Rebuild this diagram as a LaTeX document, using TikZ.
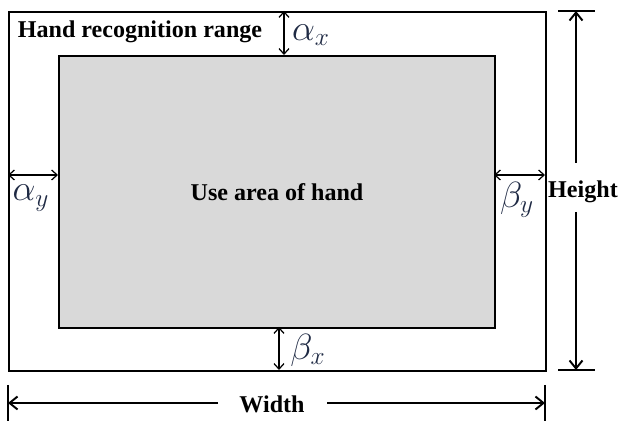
\documentclass[tikz,border=0pt]{standalone}
\usepackage{fontspec}
\setmainfont{Liberation Serif}
\usetikzlibrary{arrows.meta,positioning}
\definecolor{usegray}{HTML}{D9D9D9}
\definecolor{symblue}{HTML}{1F2A44}
\tikzset{
  area/.style={draw=black,line width=1.2pt,inner sep=0pt},
  lbl/.style={font=\bfseries\fontsize{13.7}{16}\selectfont,inner sep=1pt},
  sym/.style={font=\fontsize{20}{22}\selectfont,text=symblue,inner sep=0pt},
  gap/.style={{Straight Barb[length=1.1mm,width=2mm]}-{Straight Barb[length=1.1mm,width=2mm]},line width=0.7pt},
  dim/.style={-{Straight Barb[length=1.6mm,width=2.6mm]},line width=1.1pt},
  tick/.style={line width=1.1pt},
}

\begin{document}
\begin{tikzpicture}[x=0.02cm,y=-0.02cm]
  \useasboundingbox (0,0) rectangle (622,421);
  % the two areas
  \node[area,minimum width=10.74cm,minimum height=7.18cm,anchor=north west] (outer) at (8,11) {};
  \node[area,fill=usegray,minimum width=8.72cm,minimum height=5.44cm,anchor=north west,
        font=\bfseries\fontsize{13.7}{16}\selectfont] (inner) at (58,55) {Use area of hand};
  \node[lbl] (range) at (140,32) {Hand recognition range};

  % margins
  \coordinate (axt) at (284,11);  \coordinate (axb) at (284,55);
  \coordinate (bxt) at (279,327); \coordinate (bxb) at (279,370);
  \coordinate (ayl) at (8,175);   \coordinate (ayr) at (58,175);
  \coordinate (byl) at (494,175); \coordinate (byr) at (545,175);
  \draw[gap] (axt) -- (axb);
  \draw[gap] (bxt) -- (bxb);
  \draw[gap] (ayl) -- (ayr);
  \draw[gap] (byl) -- (byr);
  \node[sym] (alx) at (311,35)  {$\alpha_x$};
  \node[sym] (bex) at (308,350) {$\beta_x$};
  \node[sym] (aly) at (31,198)  {$\alpha_y$};
  \node[sym] (bey) at (517,200) {$\beta_y$};

  % height
  \node[lbl] (height) at (583,192) {Height};
  \coordinate (ht) at (576,11);  \coordinate (hb) at (576,370);
  \coordinate (hu) at (576,163); \coordinate (hd) at (576,212);
  \draw[tick] (558,11) -- (595,11);
  \draw[tick] (558,370) -- (595,370);
  \draw[dim] (hu) -- (ht);
  \draw[dim] (hd) -- (hb);

  % width
  \node[lbl] (width) at (272,404) {Width};
  \coordinate (wl) at (8,403);   \coordinate (wr) at (545,403);
  \coordinate (wa) at (218,403); \coordinate (wb) at (327,403);
  \draw[tick] (8,385) -- (8,421);
  \draw[tick] (545,385) -- (545,421);
  \draw[dim] (wa) -- (wl);
  \draw[dim] (wb) -- (wr);
\end{tikzpicture}
\end{document}
